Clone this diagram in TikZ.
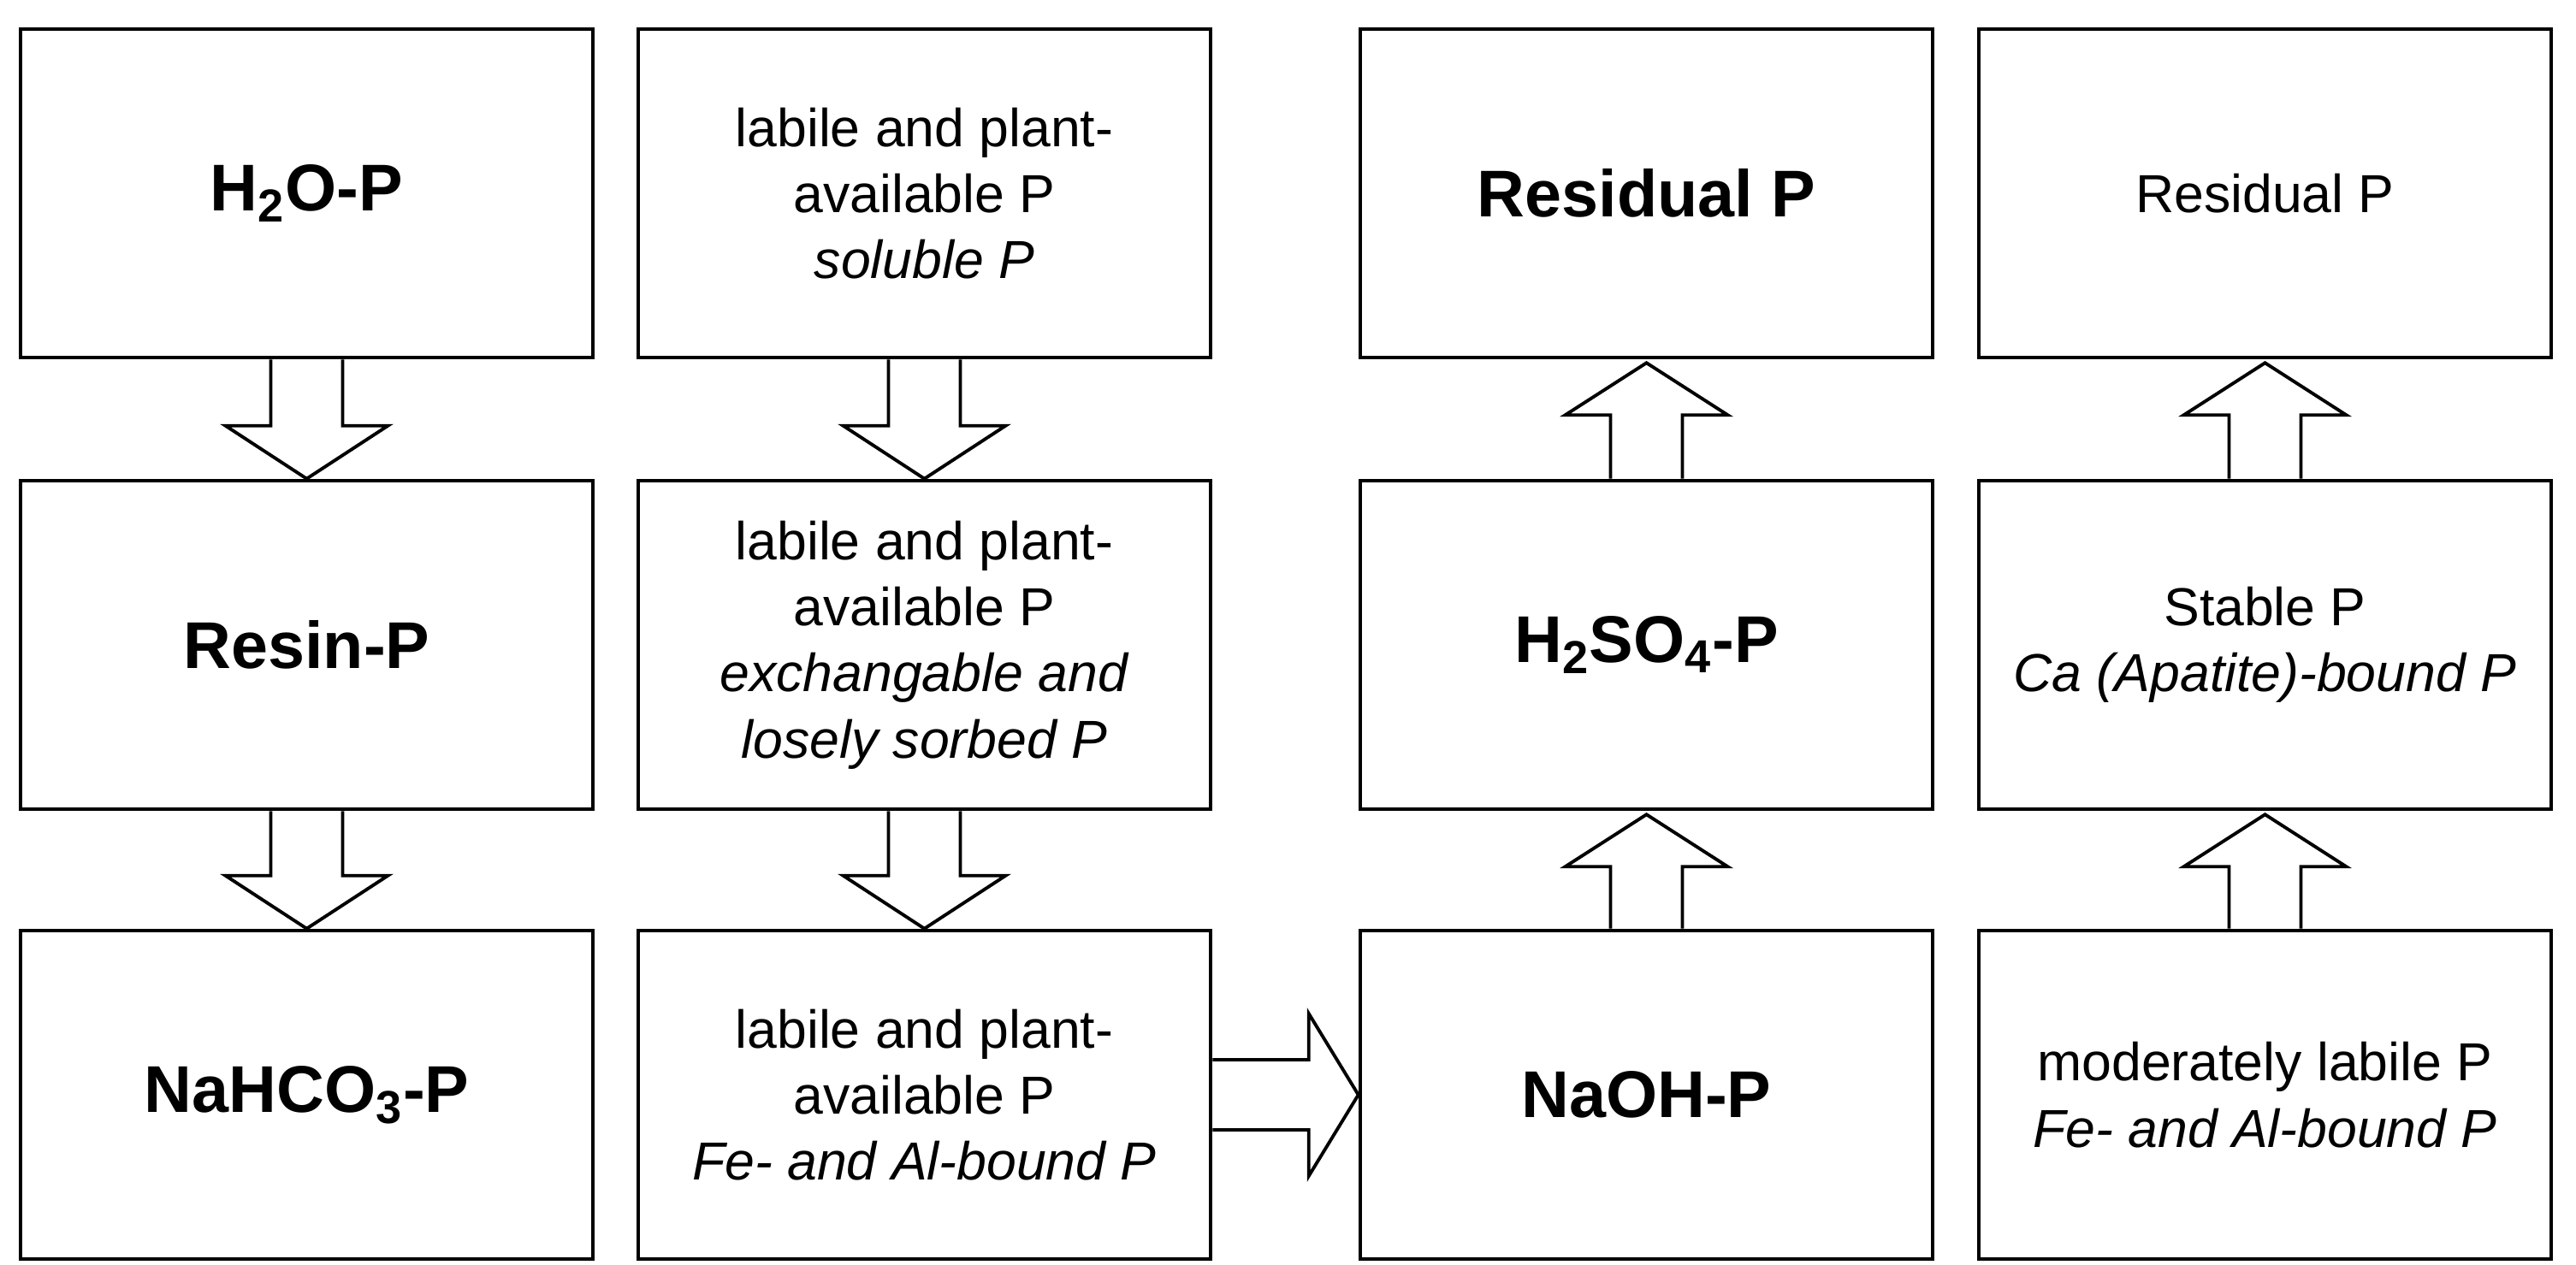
\documentclass[tikz,border=0pt]{standalone}
\usepackage{fontspec}
\setmainfont{Liberation Sans}
\usetikzlibrary{calc}
\tikzset{
 box/.style={draw,line width=1.3pt,minimum width=6.69cm,minimum height=3.84cm,align=center,inner sep=0pt},
 ttl/.style={font=\fontsize{22}{26}\selectfont\bfseries},
 txt/.style={font=\fontsize{17.8}{22}\selectfont},
 blk/.style={draw,line width=1.1pt,fill=white,line join=miter}
}
\newcommand\barrD[2]{\draw[blk] ($(#1.south)+(-0.42,0)$) -- ($(#2.north)+(-0.42,0.62)$) -- ($(#2.north)+(-0.95,0.62)$) -- (#2.north) -- ($(#2.north)+(0.95,0.62)$) -- ($(#2.north)+(0.42,0.62)$) -- ($(#1.south)+(0.42,0)$);}
\newcommand\barrU[2]{\draw[blk] ($(#1.north)+(-0.42,0)$) -- ($(#2.south)+(-0.42,-0.65)$) -- ($(#2.south)+(-0.95,-0.65)$) -- ($(#2.south)+(0,-0.04)$) -- ($(#2.south)+(0.95,-0.65)$) -- ($(#2.south)+(0.42,-0.65)$) -- ($(#1.north)+(0.42,0)$);}
\begin{document}
\begin{tikzpicture}
\useasboundingbox (0,0) rectangle (30.11,-14.79);
\node[box,ttl] (a1) at (3.585,-2.26) {H\textsubscript{2}O-P};
\node[box,ttl] (a2) at (3.585,-7.54) {Resin-P};
\node[box,ttl] (a3) at (3.585,-12.80) {NaHCO\textsubscript{3}-P};
\node[box,txt] (b1) at (10.805,-2.26) {labile and plant-\\available P\\\textit{soluble P}};
\node[box,txt] (b2) at (10.805,-7.54) {labile and plant-\\available P\\\textit{exchangable and}\\\textit{losely sorbed P}};
\node[box,txt] (b3) at (10.805,-12.80) {labile and plant-\\available P\\\textit{Fe- and Al-bound P}};
\node[box,ttl] (c1) at (19.245,-2.26) {Residual P};
\node[box,ttl] (c2) at (19.245,-7.54) {H\textsubscript{2}SO\textsubscript{4}-P};
\node[box,ttl] (c3) at (19.245,-12.80) {NaOH-P};
\node[box,txt] (d1) at (26.475,-2.26) {Residual P};
\node[box,txt] (d2) at (26.475,-7.54) {Stable P\\\textit{Ca (Apatite)-bound P}};
\node[box,txt] (d3) at (26.475,-12.80) {moderately labile P\\\textit{Fe- and Al-bound P}};
\barrD{a1}{a2}
\barrD{a2}{a3}
\barrD{b1}{b2}
\barrD{b2}{b3}
\barrU{c3}{c2}
\barrU{c2}{c1}
\barrU{d3}{d2}
\barrU{d2}{d1}
\draw[blk] ($(b3.east)+(0,0.41)$) -- ($(c3.west)+(-0.58,0.41)$) -- ($(c3.west)+(-0.58,0.95)$) -- (c3.west) -- ($(c3.west)+(-0.58,-0.95)$) -- ($(c3.west)+(-0.58,-0.41)$) -- ($(b3.east)+(0,-0.41)$);
\end{tikzpicture}
\end{document}
